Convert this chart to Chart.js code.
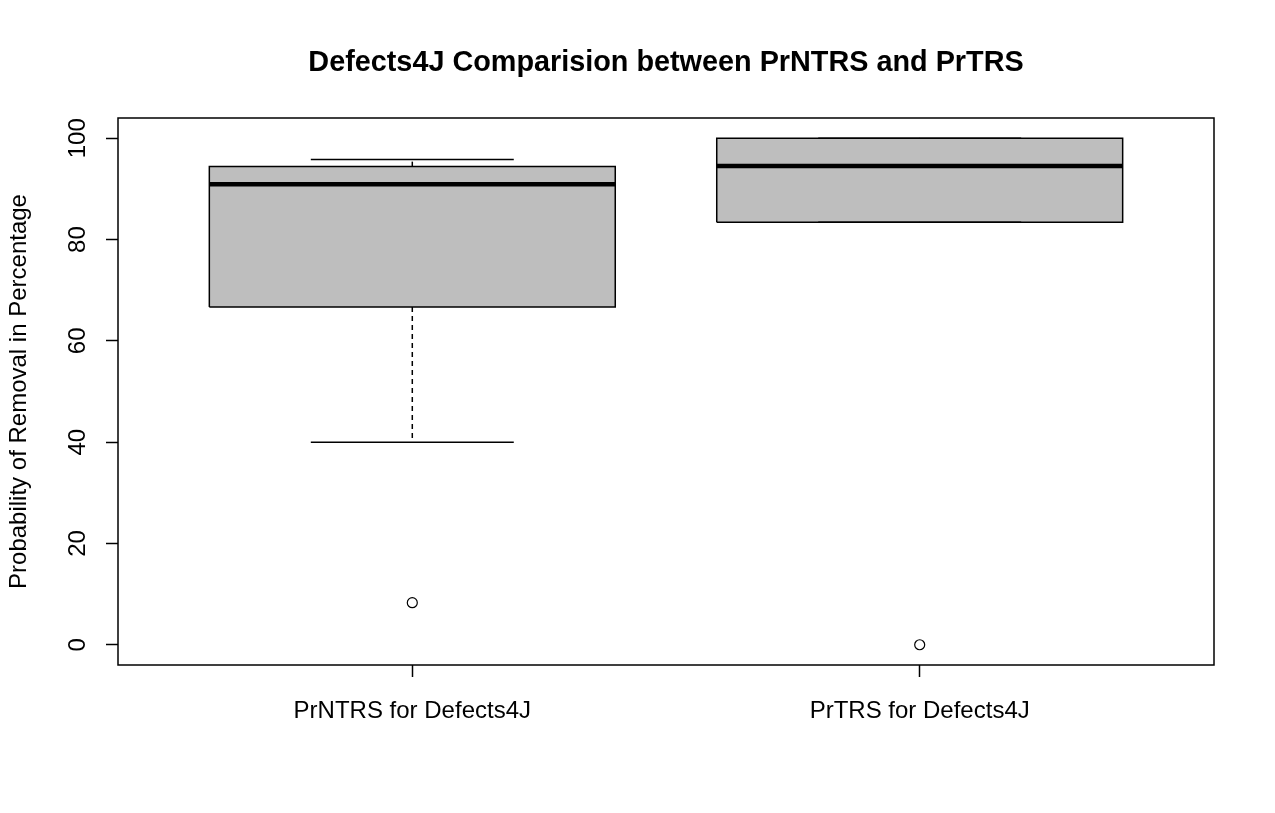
<!DOCTYPE html>
<html>
<head>
<meta charset="utf-8">
<script src="https://cdn.jsdelivr.net/npm/chart.js@4"></script>
<style>
  html, body { margin: 0; padding: 0; background: #ffffff; }
  #wrap { width: 1275px; height: 813px; }
</style>
</head>
<body>
<div id="wrap"><canvas id="c" width="1275" height="813"></canvas></div>
<script>
// ---- data ----
const categories   = ['PrNTRS for Defects4J', 'PrTRS for Defects4J'];
const whiskerLow   = [40.0, 83.4];
const q1           = [66.7, 83.4];
const medians      = [90.9, 94.5];
const q3           = [94.4, 100.0];
const whiskerHigh  = [95.8, 100.0];
const outliers     = [[8.3], [0.0]];
const yTicks       = [0, 20, 40, 60, 80, 100];

// ---- styling constants ----
const BOX_HALF = 0.4;     // half box width in x-units
const CAP_HALF = 0.2;     // half whisker-cap width
const FONT = "'Liberation Sans', Arial, sans-serif";

const datasets = [];
categories.forEach((cat, i) => {
  const x = i + 1;
  // box polygon
  datasets.push({
    data: [
      {x: x - BOX_HALF, y: q1[i]}, {x: x + BOX_HALF, y: q1[i]},
      {x: x + BOX_HALF, y: q3[i]}, {x: x - BOX_HALF, y: q3[i]},
      {x: x - BOX_HALF, y: q1[i]}
    ],
    showLine: true, fill: 'shape', backgroundColor: '#bebebe',
    borderColor: '#000', borderWidth: 1.5, pointRadius: 0, tension: 0, order: 5
  });
  // whiskers (dashed)
  datasets.push({
    data: [{x: x, y: q3[i]}, {x: x, y: whiskerHigh[i]}],
    showLine: true, borderColor: '#000', borderWidth: 1.5, borderDash: [5, 4],
    pointRadius: 0, order: 4
  });
  datasets.push({
    data: [{x: x, y: q1[i]}, {x: x, y: whiskerLow[i]}],
    showLine: true, borderColor: '#000', borderWidth: 1.5, borderDash: [5, 4],
    pointRadius: 0, order: 4
  });
  // caps
  datasets.push({
    data: [{x: x - CAP_HALF, y: whiskerHigh[i]}, {x: x + CAP_HALF, y: whiskerHigh[i]}],
    showLine: true, borderColor: '#000', borderWidth: 1.5, pointRadius: 0, order: 3
  });
  datasets.push({
    data: [{x: x - CAP_HALF, y: whiskerLow[i]}, {x: x + CAP_HALF, y: whiskerLow[i]}],
    showLine: true, borderColor: '#000', borderWidth: 1.5, pointRadius: 0, order: 3
  });
  // median
  datasets.push({
    data: [{x: x - BOX_HALF, y: medians[i]}, {x: x + BOX_HALF, y: medians[i]}],
    showLine: true, borderColor: '#000', borderWidth: 4.5, pointRadius: 0,
    borderCapStyle: 'butt', order: 1
  });
  // outliers
  datasets.push({
    data: outliers[i].map(v => ({x: x, y: v})),
    showLine: false, pointRadius: 5, pointBackgroundColor: '#fff',
    pointBorderColor: '#000', pointBorderWidth: 1.2, order: 0
  });
});

const framePlugin = {
  id: 'frame',
  afterDraw(chart) {
    const a = chart.chartArea, ctx = chart.ctx;
    ctx.save();
    ctx.strokeStyle = '#000';
    ctx.lineWidth = 1.5;
    ctx.strokeRect(a.left, a.top, a.right - a.left, a.bottom - a.top);
    ctx.restore();
  }
};

new Chart(document.getElementById('c'), {
  type: 'scatter',
  data: { datasets },
  plugins: [framePlugin],
  options: {
    responsive: false,
    animation: false,
    events: [],
    layout: { padding: { left: 0, right: 61, top: 0, bottom: 0 } },
    plugins: {
      legend: { display: false },
      tooltip: { enabled: false },
      title: {
        display: true,
        fullSize: false,
        text: 'Defects4J Comparision between PrNTRS and PrTRS',
        color: '#000',
        font: { family: FONT, size: 28.8, weight: 'bold', lineHeight: 1.2 },
        padding: { top: 46, bottom: 118 - 46 - 34.56 }
      }
    },
    scales: {
      x: {
        type: 'linear',
        min: 0.42, max: 2.58,
        afterBuildTicks: s => { s.ticks = categories.map((c, i) => ({value: i + 1})); },
        afterFit: s => { s.height = 813 - 665; },
        ticks: {
          color: '#000',
          font: { family: FONT, size: 24 },
          padding: 20,
          maxRotation: 0, minRotation: 0,
          autoSkip: false,
          callback: v => categories[v - 1]
        },
        grid: { drawOnChartArea: false, drawTicks: true, tickLength: 12, tickColor: '#000', tickWidth: 1.5 },
        border: { display: false }
      },
      y: {
        type: 'linear',
        min: -4, max: 104,
        afterBuildTicks: s => { s.ticks = yTicks.map(v => ({value: v})); },
        afterFit: s => { s.width = 118; },
        ticks: {
          color: '#000',
          font: { family: FONT, size: 24 },
          padding: 8,
          minRotation: 90, maxRotation: 90,
          crossAlign: 'center',
          autoSkip: false,
          callback: v => String(v)
        },
        grid: { drawOnChartArea: false, drawTicks: true, tickLength: 12, tickColor: '#000', tickWidth: 1.5 },
        border: { display: false },
        title: {
          display: true,
          text: 'Probability of Removal in Percentage',
          color: '#000',
          font: { family: FONT, size: 24, lineHeight: 1.2 },
          padding: { top: 5, bottom: 0 }
        }
      }
    }
  }
});
</script>
</body>
</html>
